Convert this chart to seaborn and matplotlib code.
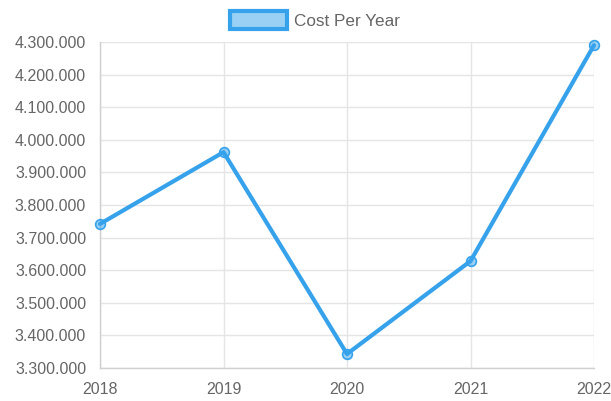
import matplotlib
matplotlib.use("Agg")
import matplotlib.pyplot as plt
import matplotlib.ticker as mticker
from matplotlib.patches import Patch
import seaborn as sns
import pandas as pd

years = [2018, 2019, 2020, 2021, 2022]
cost = [3742000, 3962000, 3343000, 3628000, 4290000]
series_label = "Cost Per Year"

sns.set_theme(style="white")
plt.rcParams['font.family'] = ['Liberation Sans', 'DejaVu Sans']

blue = "#36A2EB"
fill = (54/255, 162/255, 235/255, 0.5)
grid_c = "#e5e5e5"
text_c = "#666666"

fig = plt.figure(figsize=(6.11, 4.01), dpi=100)
ax = fig.add_axes([100/611, 1-368/401, (594-100)/611, (368-42)/401])

df = pd.DataFrame({"year": years, "cost": cost})
sns.lineplot(data=df, x="year", y="cost", ax=ax, color=blue, linewidth=3,
             marker="o", markersize=7, markerfacecolor=fill,
             markeredgecolor=blue, markeredgewidth=1.2, clip_on=False, zorder=5)

ax.set_xlim(2018, 2022)
ax.set_ylim(3300000, 4300000)
ax.set_xticks(years)
ax.set_xticklabels([str(y) for y in years])
ax.yaxis.set_major_locator(mticker.MultipleLocator(100000))
ax.yaxis.set_major_formatter(mticker.FuncFormatter(lambda v, p: f"{int(round(v)):,}".replace(",", ".")))
ax.set_xlabel("")
ax.set_ylabel("")

ax.grid(True, color=grid_c, linewidth=1)
for s in ["top", "right"]:
    ax.spines[s].set_visible(False)
for s in ["left", "bottom"]:
    ax.spines[s].set_color("#d0d0d0")
    ax.spines[s].set_linewidth(1)
ax.tick_params(axis="both", length=7, width=1, color=grid_c, labelcolor=text_c,
               labelsize=11.5, pad=3)
ax.tick_params(axis="x", length=0, pad=10)

handle = Patch(facecolor=(54/255, 162/255, 235/255, 0.5), edgecolor=blue, linewidth=3)
leg = fig.legend([handle], [series_label], loc="upper center", bbox_to_anchor=(0.516, 1.0),
                 frameon=False, fontsize=12.3, handlelength=3.3, handleheight=1.2,
                 handletextpad=0.45, borderaxespad=0.25)
for t in leg.get_texts():
    t.set_color(text_c)

fig.savefig("out.png", dpi=100)
